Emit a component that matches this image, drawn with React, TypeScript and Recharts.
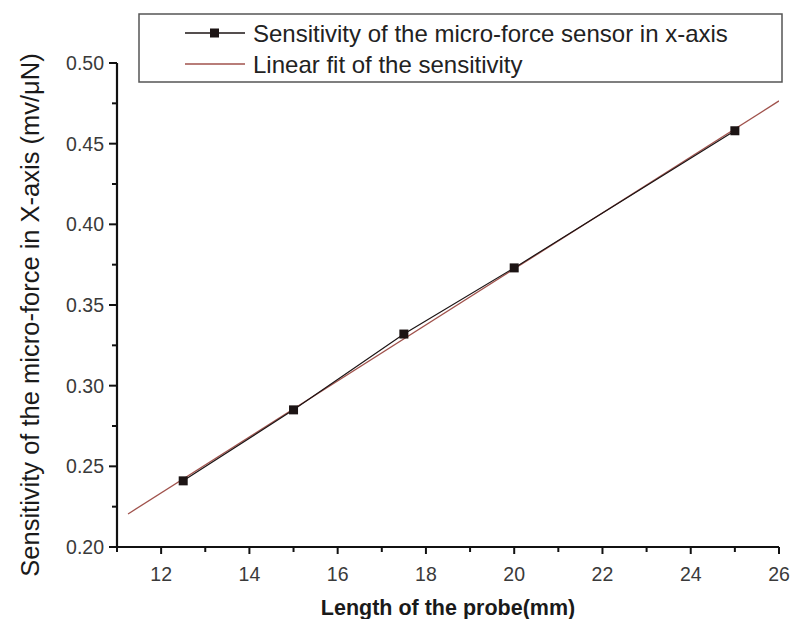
import React from 'react';
import { LineChart, Line, XAxis, YAxis, Legend, Label } from 'recharts';

const probeLength = [12.5, 15, 17.5, 20, 25];
const sensitivity = [0.241, 0.285, 0.332, 0.373, 0.458];
const fitLength = [11.25, 26];
const fitSensitivity = [0.2205, 0.4765];
const xTicks = [11, 12, 13, 14, 15, 16, 17, 18, 19, 20, 21, 22, 23, 24, 25, 26];
const xMajor = [12, 14, 16, 18, 20, 22, 24, 26];
const yTicks = [0.2, 0.225, 0.25, 0.275, 0.3, 0.325, 0.35, 0.375, 0.4, 0.425, 0.45, 0.475, 0.5];
const yMajor = [0.2, 0.25, 0.3, 0.35, 0.4, 0.45, 0.5];
const seriesNames = ['Sensitivity of the micro-force sensor in x-axis', 'Linear fit of the sensitivity'];

const measured = probeLength.map((x, i) => ({ x, y: sensitivity[i] }));
const fitted = fitLength.map((x, i) => ({ x, y: fitSensitivity[i] }));

const FONT = '"Liberation Sans", Arial, sans-serif';
const AXIS = '#111';
const DATA_COLOR = '#1c1414';
const FIT_COLOR = '#a0524c';

function XTick(props: any) {
  const { x, y, payload } = props;
  const v = payload.value;
  const major = xMajor.includes(v);
  return (
    <g>
      <line x1={x} x2={x} y1={y} y2={y + (major ? 7 : 5)} stroke={AXIS} strokeWidth={2} />
      {major && (
        <text x={x} y={y + 34} textAnchor="middle" fontSize={19.5} fontFamily={FONT} fill="#3a3a3a">
          {v}
        </text>
      )}
    </g>
  );
}

function YTick(props: any) {
  const { x, y, payload } = props;
  const v = payload.value;
  const major = yMajor.some((m) => Math.abs(m - v) < 1e-6);
  return (
    <g>
      <line x1={x} x2={x - (major ? 8 : 5)} y1={y} y2={y} stroke={AXIS} strokeWidth={2} />
      {major && (
        <text x={x - 13} y={y + 7} textAnchor="end" fontSize={19.5} fontFamily={FONT} fill="#3a3a3a">
          {v.toFixed(2)}
        </text>
      )}
    </g>
  );
}

function LegendBox() {
  return (
    <svg width={646} height={71} style={{ display: 'block' }}>
      <rect x={1} y={1} width={643} height={68} fill="#fff" stroke="#555" strokeWidth={1.5} />
      <line x1={47} x2={107} y1={20} y2={20} stroke={DATA_COLOR} strokeWidth={1.3} />
      <rect x={72} y={15.5} width={9} height={9} fill={DATA_COLOR} />
      <text x={115} y={28.5} fontSize={24} fontFamily={FONT} fill="#222">
        {seriesNames[0]}
      </text>
      <line x1={47} x2={107} y1={51} y2={51} stroke={FIT_COLOR} strokeWidth={1.3} />
      <text x={115} y={59.5} fontSize={24} fontFamily={FONT} fill="#222">
        {seriesNames[1]}
      </text>
    </svg>
  );
}

function SquareDot(props: any) {
  const { cx, cy, index } = props;
  return <rect key={`d-${index}`} x={cx - 4.5} y={cy - 4.5} width={9} height={9} fill={DATA_COLOR} />;
}

export default function App() {
  return (
    <div style={{ position: 'fixed', left: 0, top: 0, width: 792, height: 619, background: '#fff' }}>
      <LineChart width={792} height={619} margin={{ top: 63, right: 13, bottom: 42, left: 57 }}>
        <XAxis
          type="number"
          dataKey="x"
          domain={[11, 26]}
          ticks={xTicks}
          interval={0}
          allowDataOverflow
          tick={<XTick />}
          tickSize={0}
          tickMargin={0}
          tickLine={false}
          axisLine={{ stroke: AXIS, strokeWidth: 2.2 }}
          height={30}
        >
          <Label
            content={(p: any) => {
              const vb = p.viewBox;
              return (
                <text
                  x={vb.x + vb.width / 2}
                  y={vb.y + 68}
                  textAnchor="middle"
                  fontSize={21.5}
                  fontWeight="bold"
                  fontFamily={FONT}
                  fill="#1a1a1a"
                >
                  Length of the probe(mm)
                </text>
              );
            }}
          />
        </XAxis>
        <YAxis
          type="number"
          dataKey="y"
          domain={[0.2, 0.5]}
          ticks={yTicks}
          interval={0}
          allowDataOverflow
          tick={<YTick />}
          tickSize={0}
          tickMargin={0}
          tickLine={false}
          axisLine={{ stroke: AXIS, strokeWidth: 2.2 }}
          width={60}
        >
          <Label
            content={(p: any) => {
              const vb = p.viewBox;
              const cx = vb.x - 27;
              const cy = vb.y + vb.height / 2 + 10;
              return (
                <text
                  x={cx}
                  y={cy}
                  transform={`rotate(-90 ${cx} ${cy})`}
                  textAnchor="middle"
                  dominantBaseline="central"
                  fontSize={25.5}
                  fontFamily={FONT}
                  fill="#1a1a1a"
                >
                  Sensitivity of the micro-force in X-axis (mv/μN)
                </text>
              );
            }}
          />
        </YAxis>
        <Legend
          layout="horizontal"
          verticalAlign="middle"
          align="center"
          content={<LegendBox />}
          wrapperStyle={{ position: 'absolute', left: 138, top: 13, width: 646, height: 71 }}
        />
        <Line
          data={fitted}
          dataKey="y"
          name={seriesNames[1]}
          stroke={FIT_COLOR}
          strokeWidth={1.3}
          dot={false}
          activeDot={false}
          isAnimationActive={false}
        />
        <Line
          data={measured}
          dataKey="y"
          name={seriesNames[0]}
          stroke={DATA_COLOR}
          strokeWidth={1.2}
          dot={<SquareDot />}
          activeDot={false}
          isAnimationActive={false}
        />
      </LineChart>
    </div>
  );
}
